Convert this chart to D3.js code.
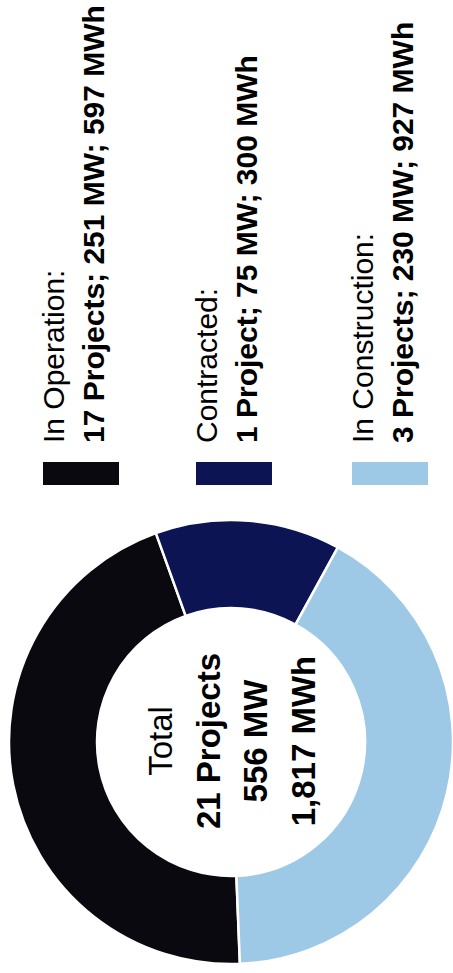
<!DOCTYPE html>
<html>
<head>
<meta charset="utf-8">
<script src="https://cdn.jsdelivr.net/npm/d3@7"></script>
<style>
  body { margin: 0; background: #fff; }
  text { font-family: "Liberation Sans", Arial, Helvetica, sans-serif; fill: #000; }
</style>
</head>
<body>
<main></main>
<script>
// data
const categories = ["In Operation:", "Contracted:", "In Construction:"];
const projects = [17, 1, 3];
const mw = [251, 75, 230];
const mwh = [597, 300, 927];
// totals as printed in the centre of the chart
const totalLabels = ["Total", "21 Projects", "556 MW", "1,817 MWh"];

const width = 453;
const height = 973;

const color = d3.scaleOrdinal()
  .domain(categories)
  .range(["#09090f", "#0c1453", "#9ec9e6"]);

const svg = d3.select("main")
  .append("svg")
  .attr("width", width)
  .attr("height", height);

// the whole chart is turned a quarter turn, like the reference
const g = svg.append("g")
  .attr("transform", "translate(0," + height + ") rotate(-90)");

//donut
const rows = categories.map((c, i) => ({cat: c, projects: projects[i], mw: mw[i], mwh: mwh[i]}));

const pie = d3.pie()
  .sort(null)
  .value(d => d.mw)
  .startAngle(-92.3 * Math.PI / 180)
  .endAngle(-92.3 * Math.PI / 180 + 2 * Math.PI);

const arc = d3.arc()
  .innerRadius(134)
  .outerRadius(222);

const donut = g.append("g")
  .attr("transform", "translate(231,231)");

donut.selectAll("path")
  .data(pie(rows))
  .enter()
  .append("path")
  .attr("d", arc)
  .attr("fill", d => color(d.data.cat))
  .attr("stroke", "#fff")
  .attr("stroke-width", 2.5);

// centre label
donut.selectAll("text.centre")
  .data(totalLabels)
  .enter()
  .append("text")
  .attr("class", "centre")
  .attr("x", 1)
  .attr("y", (d, i) => -59 + i * 47.7)
  .attr("text-anchor", "middle")
  .style("font-size", "33px")
  .style("font-weight", (d, i) => i > 0 ? "bold" : "normal")
  .text(d => d);

// legend
const legend = g.append("g")
  .attr("transform", "translate(488,43)");

const item = legend.selectAll("g")
  .data(rows)
  .enter()
  .append("g")
  .attr("transform", (d, i) => "translate(0," + [0, 153, 309][i] + ")");

item.append("rect")
  .attr("x", 0)
  .attr("y", 0)
  .attr("width", 23)
  .attr("height", 76)
  .attr("fill", d => color(d.cat));

item.append("text")
  .attr("x", 42)
  .attr("y", 21)
  .style("font-size", "30px")
  .text(d => d.cat);

item.append("text")
  .attr("x", 42)
  .attr("y", 61)
  .style("font-size", "30px")
  .style("font-weight", "bold")
  .text(d => d.projects + (d.projects > 1 ? " Projects; " : " Project; ") + d.mw + " MW; " + d.mwh + " MWh");
</script>
</body>
</html>
